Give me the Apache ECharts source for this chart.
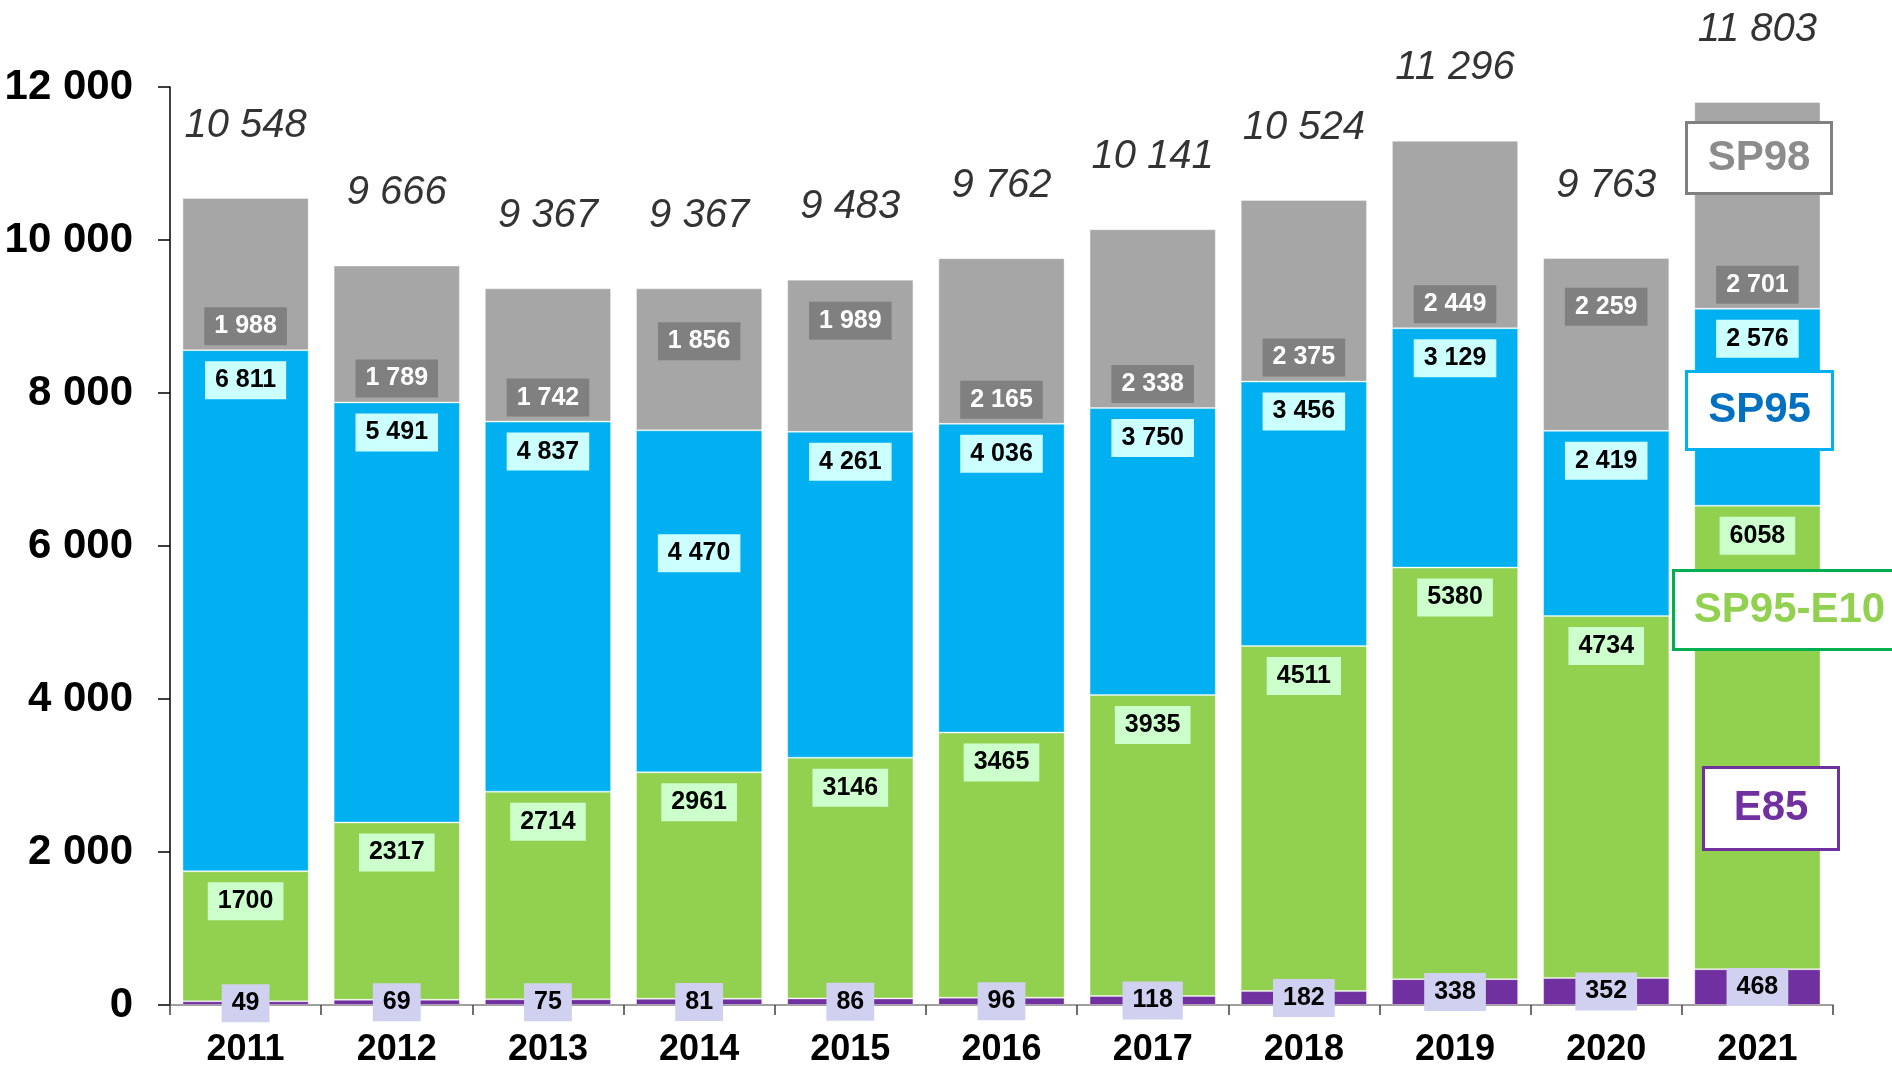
<!DOCTYPE html>
<html>
<head>
<meta charset="utf-8">
<script src="https://cdn.jsdelivr.net/npm/echarts@6/dist/echarts.min.js"></script>
<style>
  html, body { margin: 0; padding: 0; background: #ffffff; }
  #chart { width: 1892px; height: 1067px; }
</style>
</head>
<body>
<div id="chart"></div>
<script>
// ---- data ----
const years = ['2011', '2012', '2013', '2014', '2015', '2016', '2017', '2018', '2019', '2020', '2021'];
const e85   = [49, 69, 75, 81, 86, 96, 118, 182, 338, 352, 468];
const e10   = [1700, 2317, 2714, 2961, 3146, 3465, 3935, 4511, 5380, 4734, 6058];
const sp95  = [6811, 5491, 4837, 4470, 4261, 4036, 3750, 3456, 3129, 2419, 2576];
const sp98  = [1988, 1789, 1742, 1856, 1989, 2165, 2338, 2375, 2449, 2259, 2701];
const totals = [10548, 9666, 9367, 9367, 9483, 9762, 10141, 10524, 11296, 9763, 11803];
const yTicks = [0, 2000, 4000, 6000, 8000, 10000, 12000];

// ---- helpers ----
const FONT = '"Liberation Sans", Arial, Helvetica, sans-serif';
const sp = v => String(v).replace(/\B(?=(\d{3})+(?!\d))/g, ' ');

// manual label shifts seen in the original (pixel offsets, keyed by year index)
const sp98Shift = { 3: -65, 4: -87, 9: -100 };
const sp95Shift = { 3: 93 };

const boxLabel = (bg, color, fmt, position, distance) => ({
  show: true,
  position: position,
  distance: distance,
  formatter: p => fmt(p.value),
  fontFamily: FONT,
  fontWeight: 'bold',
  fontSize: 25,
  lineHeight: 26,
  color: color,
  backgroundColor: bg,
  padding: [6, 10, 6, 10]
});

const withShift = (arr, shifts) => arr.map((v, i) =>
  shifts[i] !== undefined ? { value: v, label: { offset: [0, shifts[i]] } } : v);

const barBase = {
  type: 'bar',
  stack: 'total',
  barCategoryGap: '16.5%',
  itemStyle: { borderColor: 'rgba(255,255,255,0.35)', borderWidth: 1 }
};

const chart = echarts.init(document.getElementById('chart'), null, { renderer: 'canvas' });

const legendBox = (x, y, w, h, text, textColor, borderColor) => ({
  type: 'group',
  left: x, top: y,
  z: 100,
  children: [
    { type: 'rect', z: 100, shape: { x: 0, y: 0, width: w, height: h },
      style: { fill: '#ffffff', stroke: borderColor, lineWidth: 3 } },
    { type: 'text', z: 101, x: w / 2, y: h / 2,
      style: { text: text, fill: textColor, font: 'bold 42px ' + FONT,
               textAlign: 'center', textVerticalAlign: 'middle',
               align: 'center', verticalAlign: 'middle' } }
  ]
});

const option = {
  animation: false,
  backgroundColor: '#ffffff',
  grid: { left: 170, right: 59, top: 87, bottom: 62, containLabel: false, outerBoundsMode: 'none' },
  xAxis: {
    type: 'category',
    data: years,
    axisLine: { show: true, lineStyle: { color: '#808080', width: 1.5 } },
    axisTick: { show: true, length: 10, lineStyle: { color: '#404040', width: 1.5 } },
    axisLabel: { fontFamily: FONT, fontWeight: 'bold', fontSize: 36, color: '#000', margin: 27 }
  },
  yAxis: {
    type: 'value',
    min: yTicks[0], max: yTicks[yTicks.length - 1], interval: yTicks[1] - yTicks[0],
    splitLine: { show: false },
    axisLine: { show: true, lineStyle: { color: '#000', width: 1.5 } },
    axisTick: { show: true, length: 12, lineStyle: { color: '#000', width: 1.5 } },
    axisLabel: { fontFamily: FONT, fontWeight: 'bold', fontSize: 42, color: '#000', margin: 37,
                 formatter: v => sp(v) }
  },
  series: [
    Object.assign({}, barBase, {
      name: 'E85', data: e85,
      itemStyle: Object.assign({}, barBase.itemStyle, { color: '#7030A0' }),
      label: boxLabel('#D0D0F0', '#000', v => String(v), 'inside', 0),
      z: 3
    }),
    Object.assign({}, barBase, {
      name: 'SP95-E10', data: e10,
      itemStyle: Object.assign({}, barBase.itemStyle, { color: '#92D050' }),
      label: boxLabel('#CCFFCC', '#000', v => String(v), 'insideTop', 11)
    }),
    Object.assign({}, barBase, {
      name: 'SP95', data: withShift(sp95, sp95Shift),
      itemStyle: Object.assign({}, barBase.itemStyle, { color: '#00B0F0' }),
      label: boxLabel('#CCFFFF', '#000', v => sp(v), 'insideTop', 11)
    }),
    Object.assign({}, barBase, {
      name: 'SP98', data: withShift(sp98, sp98Shift),
      itemStyle: Object.assign({}, barBase.itemStyle, { color: '#A6A6A6' }),
      label: boxLabel('#808080', '#ffffff', v => sp(v), 'insideBottom', 5)
    }),
    {
      name: 'Total', type: 'scatter', data: totals,
      symbolSize: 1,
      itemStyle: { color: 'rgba(0,0,0,0)' },
      label: {
        show: true, position: 'top', distance: 52,
        formatter: p => sp(p.value),
        fontFamily: FONT, fontStyle: 'italic', fontWeight: 'normal',
        fontSize: 40, lineHeight: 40, color: '#000'
      },
      z: 10
    }
  ],
  graphic: [
    legendBox(1685, 121, 145, 71, 'SP98', '#8C8C8C', '#808080'),
    legendBox(1685, 370, 146, 78, 'SP95', '#0070C0', '#00B0F0'),
    legendBox(1672, 569, 232, 79, 'SP95-E10', '#92D050', '#00B050'),
    legendBox(1702, 766, 135, 82, 'E85', '#7030A0', '#7030A0')
  ]
};

chart.setOption(option);
</script>
</body>
</html>
